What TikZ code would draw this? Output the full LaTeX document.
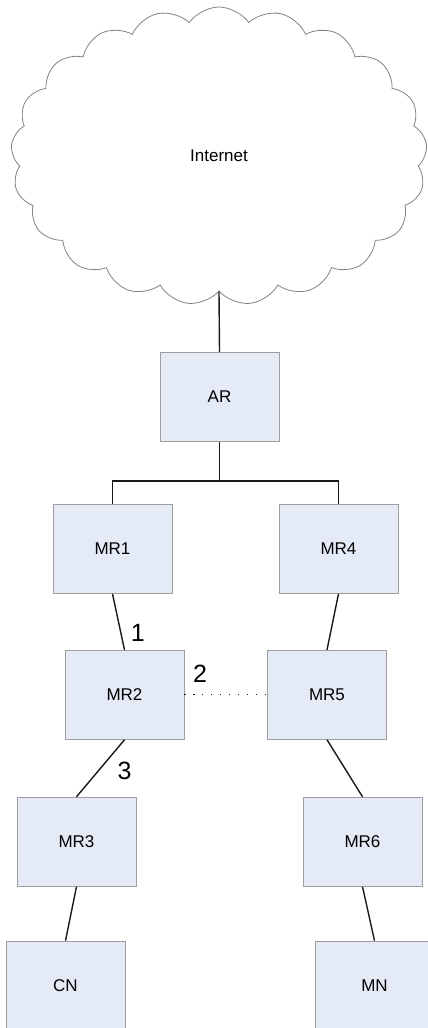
\documentclass[tikz,border=0pt]{standalone}
\usepackage{fontspec}
\setmainfont{Liberation Sans}
\usetikzlibrary{shapes.symbols, positioning}
\definecolor{RouterFill}{RGB}{229, 235, 246}
\definecolor{RouterEdge}{RGB}{158, 158, 158}
\definecolor{CloudEdge}{RGB}{130, 130, 130}
\definecolor{LinkDark}{RGB}{25, 25, 25}

\begin{document}
\begin{tikzpicture}[
    x=1pt, y=-1pt,
    font=\fontsize{17}{20}\selectfont,
    router/.style={rectangle, draw=RouterEdge, line width=0.9pt, fill=RouterFill, minimum width=119pt, minimum height=89pt, inner sep=0pt},
    net/.style={cloud, draw=CloudEdge, line width=0.8pt, cloud puffs=21, cloud puff arc=110, aspect=1.4, minimum width=416pt, minimum height=298pt},
    link/.style={draw=LinkDark, line width=1.4pt},
    radio/.style={draw=LinkDark, line width=1.2pt, dash pattern=on 1.2pt off 7.7pt},
    hop/.style={font=\fontsize{25}{29}\selectfont}
]
\useasboundingbox (0,0) rectangle (428,1028);

\node[net] (inet) at (219,156) {Internet};
\node[router] (AR) at (219.5,397) {AR};

\node[router, below=62pt of AR, xshift=-107pt] (MR1) {MR1};
\node[router, below=62pt of AR, xshift=119pt] (MR4) {MR4};
\node[router, below=56pt of MR1, xshift=12pt] (MR2) {MR2};
\node[router, below=56pt of MR4, xshift=-11.5pt] (MR5) {MR5};
\node[router, below=57pt of MR2, xshift=-48pt] (MR3) {MR3};
\node[router, below=57pt of MR5, xshift=35.5pt] (MR6) {MR6};
\node[router, below=54pt of MR3, xshift=-11pt] (CN) {CN};
\node[router, below=54pt of MR6, xshift=12pt] (MN) {MN};

\coordinate[below=39pt of AR] (bus);

\draw[link] (inet.south) -- (AR.north);
\draw[link] (AR.south) -- (bus);
\draw[link] (MR1.north) |- (bus) -| (MR4.north);

\draw[link] (MR1.south) -- node[hop, pos=0.7, right=6pt] (hop1) {1} (MR2.north);
\draw[link] (MR4.south) -- (MR5.north);
\draw[radio] (MR2.east) -- node[hop, pos=0.19, above=8pt] (hop2) {2} (MR5.west);
\draw[link] (MR2.south) -- node[hop, pos=0.54, right=15pt] (hop3) {3} (MR3.north);
\draw[link] (MR5.south) -- (MR6.north);
\draw[link] (MR3.south) -- (CN.north);
\draw[link] (MR6.south) -- (MN.north);

\end{tikzpicture}
\end{document}
